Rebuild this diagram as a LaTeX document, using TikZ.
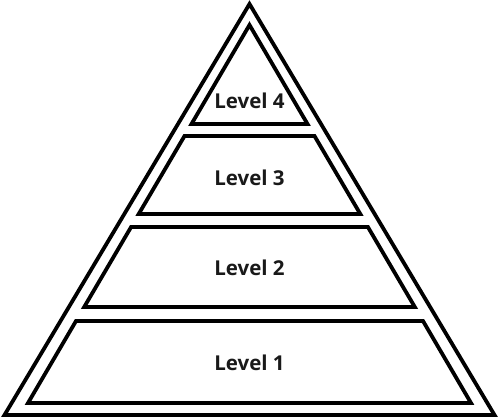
\documentclass[tikz,border=0pt]{standalone}
\usepackage{fontspec}
\usepackage{tikz}
\usetikzlibrary{calc}
\newfontfamily\lvlfont{Open Sans}
\tikzset{>=latex}
\tikzstyle{edge} = [draw=black, line width=3.8pt, line join=miter]
\tikzstyle{lvl} = [draw=none, font=\lvlfont\bfseries\fontsize{20.5}{24}\selectfont, text=black!90]

\begin{document}
\begin{tikzpicture}[x=1pt, y=-1pt]
\useasboundingbox (0,0) rectangle (500,419);
\draw [edge] (249.5,4) -- (494.5,415) -- (4.5,415) -- cycle;
\draw [edge] (249.5,25) -- (307.5,124) -- (191.5,124) -- cycle;
\draw [edge] (184.5,136) -- (314.5,136) -- (360.3,214) -- (138.7,214) -- cycle;
\draw [edge] (131.1,227) -- (367.9,227) -- (414.8,307) -- (84.2,307) -- cycle;
\draw [edge] (76,321) -- (423,321) -- (471,403) -- (28,403) -- cycle;
\node [lvl] (L4) at (249.5,100.5) {Level 4};
\node [lvl] (L3) at (249.5,177.5) {Level 3};
\node [lvl] (L2) at (249.5,268) {Level 2};
\node [lvl] (L1) at (249.5,362.5) {Level 1};
\end{tikzpicture}
\end{document}
